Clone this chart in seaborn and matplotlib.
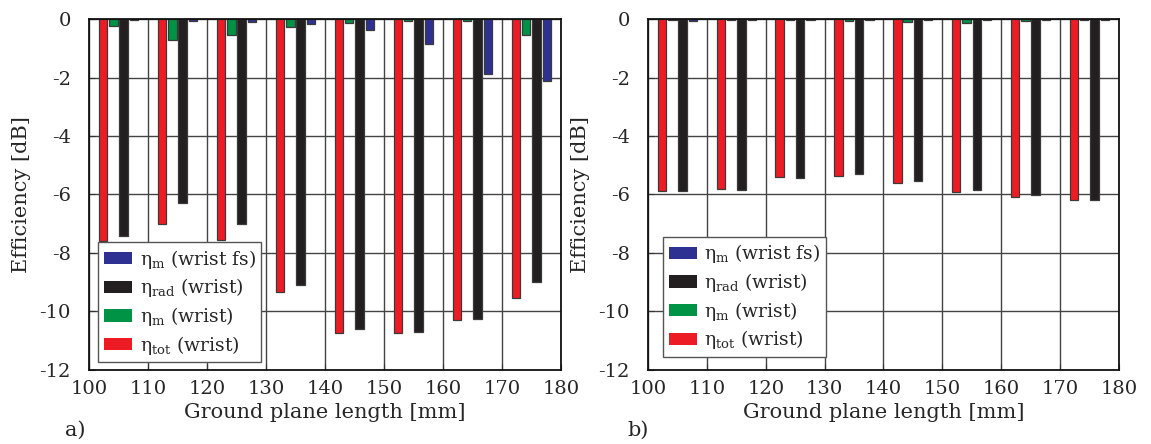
import numpy as np
import pandas as pd
import matplotlib
matplotlib.use("Agg")
import matplotlib.pyplot as plt
from matplotlib.patches import Patch
import seaborn as sns

# Ground plane lengths [mm] (each group spans length .. length+10)
lengths = [100, 110, 120, 130, 140, 150, 160, 170]

# Panel a) efficiencies [dB]
tot_a = [-7.60, -7.00, -7.55, -9.35, -10.72, -10.75, -10.30, -9.53]
mwrist_a = [-0.24, -0.73, -0.54, -0.28, -0.13, -0.08, -0.08, -0.54]
rad_a = [-7.41, -6.29, -7.01, -9.09, -10.60, -10.70, -10.25, -9.00]
mfs_a = [-0.04, -0.06, -0.09, -0.18, -0.39, -0.85, -1.87, -2.12]

# Panel b) efficiencies [dB]
tot_b = [-5.89, -5.82, -5.40, -5.38, -5.62, -5.93, -6.10, -6.20]
mwrist_b = [-0.02, -0.02, -0.02, -0.07, -0.10, -0.15, -0.07, -0.02]
rad_b = [-5.87, -5.85, -5.42, -5.31, -5.53, -5.83, -6.02, -6.18]
mfs_b = [-0.07, -0.03, -0.02, -0.02, -0.02, -0.02, -0.02, -0.02]

series_keys = ["tot", "mwrist", "rad", "mfs"]
series_labels = {
    "mfs": r"η$_{\mathrm{m}}$ (wrist fs)",
    "rad": r"η$_{\mathrm{rad}}$ (wrist)",
    "mwrist": r"η$_{\mathrm{m}}$ (wrist)",
    "tot": r"η$_{\mathrm{tot}}$ (wrist)",
}
palette = {"tot": "#ED1C24", "mwrist": "#009245", "rad": "#231F20", "mfs": "#2E3192"}

sns.set_style("ticks")
plt.rcParams["font.family"] = ["DejaVu Serif"]
plt.rcParams["mathtext.fontset"] = "custom"
plt.rcParams["mathtext.rm"] = "DejaVu Serif"
plt.rcParams["mathtext.it"] = "DejaVu Serif:italic"
plt.rcParams["axes.unicode_minus"] = False


def long_frame(tot, mw, rad, mfs):
    rows = []
    for key, vals in zip(series_keys, [tot, mw, rad, mfs]):
        for L, v in zip(lengths, vals):
            rows.append({"center": L + 5, "series": key, "eff": v})
    return pd.DataFrame(rows)


fig = plt.figure(figsize=(11.51, 4.44), dpi=100)
ax_a = fig.add_axes([0.0773, 0.1667, 0.410, 0.7905])
ax_b = fig.add_axes([0.5630, 0.1667, 0.409, 0.7905])

panels = [
    (ax_a, long_frame(tot_a, mwrist_a, rad_a, mfs_a), "a)", (0.02, 0.022), 75),
    (ax_b, long_frame(tot_b, mwrist_b, rad_b, mfs_b), "b)", (0.032, 0.037), 638),
]

for ax, df, tag, leg_anchor, tag_x in panels:
    ax.set_axisbelow(True)
    ax.grid(True, color="#444444", linewidth=1.0)
    sns.barplot(
        data=df, x="center", y="eff", hue="series", hue_order=series_keys,
        palette=palette, saturation=1, native_scale=True, width=0.7, gap=0.18,
        errorbar=None, edgecolor="#3a3a3a", linewidth=0.9, legend=False,
        ax=ax, zorder=3,
    )
    ax.set_xlim(100, 180)
    ax.set_ylim(-12, 0)
    ax.set_xticks(np.arange(100, 181, 10))
    ax.set_xticklabels([str(v) for v in range(100, 181, 10)])
    ax.set_yticks(np.arange(-12, 1, 2))
    ax.set_yticklabels([str(v) for v in range(-12, 1, 2)])
    ax.tick_params(axis="both", direction="in", length=4, labelsize=14, color="#333333")
    ax.tick_params(axis="y", pad=13)
    ax.tick_params(axis="x", pad=7)
    for sp in ax.spines.values():
        sp.set_color("#111111")
        sp.set_linewidth(1.3)
        sp.set_zorder(5)
    ax.set_xlabel("Ground plane length [mm]", fontsize=15, labelpad=4)
    ax.set_ylabel("Efficiency [dB]", fontsize=15, labelpad=6)

    handles = [Patch(facecolor=palette[k], edgecolor="none") for k in ["mfs", "rad", "mwrist", "tot"]]
    labels = [series_labels[k] for k in ["mfs", "rad", "mwrist", "tot"]]
    leg = ax.legend(
        handles, labels, loc="lower left", bbox_to_anchor=leg_anchor,
        fontsize=13.5, frameon=True, fancybox=False, framealpha=1,
        edgecolor="#555555", handlelength=1.5, handleheight=0.65,
        handletextpad=0.4, labelspacing=0.3, borderpad=0.3, borderaxespad=0,
    )
    leg.get_frame().set_linewidth(1.0)
    leg.set_zorder(6)

    fig.text(tag_x / 1151, 1 - 430 / 444, tag, fontsize=15, ha="center", va="center")

fig.savefig("out.png", dpi=100)
